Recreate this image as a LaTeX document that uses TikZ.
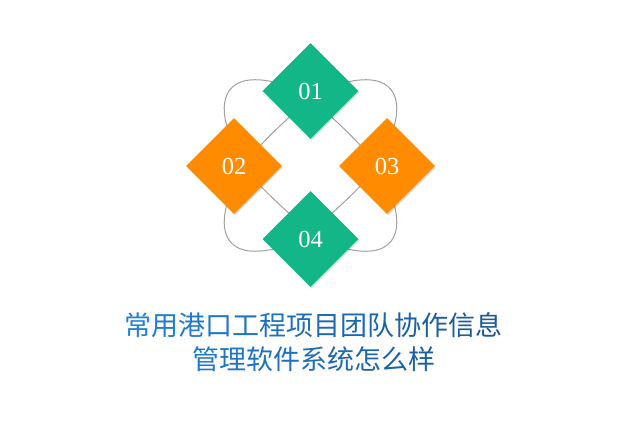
\documentclass[tikz,border=0pt]{standalone}
\usepackage{fontspec}
\newfontfamily\cjk{Noto Sans CJK SC}
\newfontfamily\digitfont{Liberation Serif}
\usetikzlibrary{shapes.geometric,shadows}
\definecolor{dgreen}{HTML}{13B787}
\definecolor{dorange}{HTML}{FF8C00}
\definecolor{lgray}{HTML}{A0A0A0}
\definecolor{tL}{HTML}{1F82DA}
\definecolor{tR}{HTML}{1A5892}
\newcommand{\gchar}[2]{\textcolor{tR!#1!tL}{#2}}
\tikzset{
  dia/.style={diamond, aspect=1, minimum width=96pt, minimum height=96pt, inner sep=0pt,
    draw=none, text=white,
    font=\digitfont\fontsize{24.5}{24.5}\selectfont,
    drop shadow={shadow xshift=1.2pt, shadow yshift=-1.2pt, opacity=0.15, fill=black}},
  gdia/.style={dia, fill=dgreen},
  odia/.style={dia, fill=dorange},
  ring/.style={draw=lgray, line width=1pt},
  title/.style={font=\cjk\fontsize{27}{27}\selectfont, inner sep=0pt}
}
\begin{document}
\begin{tikzpicture}[x=1pt, y=-1pt]
\useasboundingbox (0,0) rectangle (640,427);
\fill[white] (0,0) rectangle (640,427);
% diamond centres
\coordinate (c1) at (310.5,91);
\coordinate (c2) at (234,166);
\coordinate (c3) at (387,166);
\coordinate (c4) at (310.5,239);
% petal ends (hidden under the diamonds)
\coordinate (a1) at (282,84);  \coordinate (a2) at (228,130);
\coordinate (b1) at (339,84);  \coordinate (b3) at (393,130);
\coordinate (e4) at (282,247); \coordinate (e2) at (228,201);
\coordinate (f4) at (339,247); \coordinate (f3) at (393,201);
% outer petals
\draw[ring] (a1) .. controls (225,68) and (218,100) .. (a2);
\draw[ring] (b1) .. controls (396,68) and (403,100) .. (b3);
\draw[ring] (e4) .. controls (225,263) and (218,231) .. (e2);
\draw[ring] (f4) .. controls (396,263) and (403,231) .. (f3);
% inner segments
\draw[ring] ([shift={(4,4)}]c1) to[bend right=4] ([shift={(4,4)}]c2);
\draw[ring] ([shift={(4,-4)}]c2) to[bend right=4] ([shift={(4,-4)}]c4);
\draw[ring] ([shift={(-4,-4)}]c4) to[bend right=4] ([shift={(-4,-4)}]c3);
\draw[ring] ([shift={(-4,4)}]c3) to[bend right=4] ([shift={(-4,4)}]c1);
% diamonds
\node[gdia] (d1) at (c1) {01};
\node[odia] (d2) at (c2) {02};
\node[odia] (d3) at (c3) {03};
\node[gdia] (d4) at (c4) {04};
% title
\node[title] (t1) at (313.5,325) {\gchar{4}{常}\gchar{11}{用}\gchar{18}{港}\gchar{25}{口}\gchar{32}{工}\gchar{39}{程}\gchar{47}{项}\gchar{54}{目}\gchar{61}{团}\gchar{68}{队}\gchar{75}{协}\gchar{82}{作}\gchar{90}{信}\gchar{97}{息}};
\node[title] (t2) at (313.5,359) {\gchar{21}{管}\gchar{29}{理}\gchar{36}{软}\gchar{43}{件}\gchar{50}{系}\gchar{57}{统}\gchar{64}{怎}\gchar{72}{么}\gchar{79}{样}};
\end{tikzpicture}
\end{document}
